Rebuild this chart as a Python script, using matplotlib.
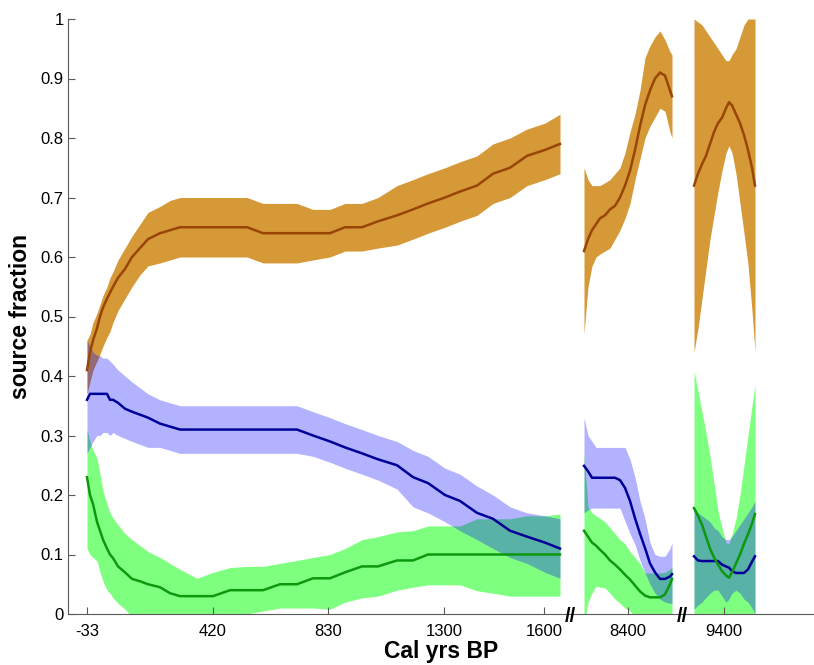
import numpy as np
import matplotlib
matplotlib.use('Agg')
import matplotlib.pyplot as plt

plt.rcParams['font.family'] = ['Liberation Sans', 'DejaVu Sans']

# положения по оси x (условные единицы, разрыв оси на двух местах)
x1 = [87, 90, 93, 97, 100, 103, 107, 110, 113, 118, 125, 132, 140, 148, 160, 170, 180, 197, 213, 230,
      247, 263, 280, 297, 313, 330, 345, 362, 378, 397, 413, 428, 445, 460, 477, 493, 510, 527, 545, 560]
x2 = [584, 588, 592, 596, 600, 605, 610, 615, 620, 625, 630, 635, 640, 645, 650, 655, 660, 665, 670, 672]
x3 = [694, 698, 702, 706, 710, 714, 718, 722, 726, 729, 732, 736, 740, 744, 748, 752, 755]

# коричневый источник
brown_mid1 = [0.41, 0.44, 0.46, 0.48, 0.50, 0.515, 0.53, 0.54, 0.55, 0.565, 0.58, 0.60, 0.615, 0.63, 0.64, 0.645, 0.65, 0.65, 0.65, 0.65,
              0.65, 0.64, 0.64, 0.64, 0.64, 0.64, 0.65, 0.65, 0.66, 0.67, 0.68, 0.69, 0.70, 0.71, 0.72, 0.74, 0.75, 0.77, 0.78, 0.79]
brown_hi1 = [0.46, 0.47, 0.49, 0.505, 0.52, 0.535, 0.55, 0.565, 0.575, 0.595, 0.615, 0.635, 0.655, 0.675, 0.685, 0.695, 0.70, 0.70, 0.70, 0.70,
             0.70, 0.69, 0.69, 0.69, 0.68, 0.68, 0.69, 0.69, 0.70, 0.72, 0.73, 0.74, 0.75, 0.76, 0.77, 0.79, 0.80, 0.815, 0.825, 0.84]
brown_lo1 = [0.37, 0.39, 0.41, 0.425, 0.437, 0.45, 0.465, 0.475, 0.49, 0.51, 0.53, 0.55, 0.57, 0.585, 0.59, 0.595, 0.60, 0.60, 0.60, 0.60,
             0.60, 0.59, 0.59, 0.59, 0.595, 0.60, 0.61, 0.61, 0.615, 0.62, 0.63, 0.64, 0.65, 0.66, 0.67, 0.69, 0.70, 0.72, 0.73, 0.74]
brown_mid2 = [0.61, 0.63, 0.645, 0.655, 0.665, 0.67, 0.68, 0.686, 0.70, 0.72, 0.745, 0.78, 0.82, 0.855, 0.88, 0.90, 0.91, 0.905, 0.88, 0.87]
brown_hi2 = [0.75, 0.73, 0.72, 0.72, 0.72, 0.725, 0.73, 0.74, 0.75, 0.775, 0.81, 0.84, 0.88, 0.935, 0.955, 0.97, 0.98, 0.965, 0.945, 0.94]
brown_lo2 = [0.47, 0.55, 0.585, 0.60, 0.605, 0.61, 0.615, 0.63, 0.645, 0.665, 0.69, 0.73, 0.765, 0.80, 0.82, 0.835, 0.85, 0.845, 0.81, 0.80]
brown_mid3 = [0.72, 0.74, 0.756, 0.77, 0.79, 0.81, 0.825, 0.834, 0.85, 0.86, 0.855, 0.84, 0.825, 0.805, 0.78, 0.75, 0.72]
brown_hi3 = [1.0, 0.995, 0.99, 0.98, 0.97, 0.96, 0.95, 0.94, 0.93, 0.93, 0.94, 0.95, 0.97, 0.99, 1.0, 1.0, 1.0]
brown_lo3 = [0.44, 0.48, 0.53, 0.58, 0.63, 0.67, 0.71, 0.745, 0.775, 0.787, 0.775, 0.74, 0.69, 0.64, 0.588, 0.51, 0.44]

# синий источник
blue_mid1 = [0.36, 0.37, 0.37, 0.37, 0.37, 0.37, 0.37, 0.36, 0.36, 0.355, 0.345, 0.34, 0.335, 0.33, 0.32, 0.315, 0.31, 0.31, 0.31, 0.31,
             0.31, 0.31, 0.31, 0.31, 0.30, 0.29, 0.28, 0.27, 0.26, 0.25, 0.23, 0.22, 0.20, 0.19, 0.17, 0.16, 0.14, 0.13, 0.12, 0.11]
blue_hi1 = [0.46, 0.45, 0.44, 0.435, 0.434, 0.43, 0.43, 0.425, 0.42, 0.41, 0.40, 0.39, 0.38, 0.37, 0.36, 0.355, 0.35, 0.35, 0.35, 0.35,
            0.35, 0.35, 0.35, 0.35, 0.34, 0.33, 0.32, 0.31, 0.30, 0.29, 0.275, 0.265, 0.245, 0.235, 0.215, 0.20, 0.18, 0.17, 0.165, 0.16]
blue_lo1 = [0.27, 0.28, 0.29, 0.30, 0.30, 0.305, 0.305, 0.30, 0.305, 0.30, 0.295, 0.29, 0.285, 0.28, 0.28, 0.275, 0.27, 0.27, 0.27, 0.27,
            0.27, 0.27, 0.27, 0.27, 0.265, 0.255, 0.245, 0.235, 0.225, 0.21, 0.18, 0.17, 0.155, 0.14, 0.125, 0.11, 0.095, 0.085, 0.07, 0.06]
blue_mid2 = [0.249, 0.24, 0.229, 0.229, 0.229, 0.229, 0.229, 0.229, 0.225, 0.212, 0.19, 0.161, 0.135, 0.111, 0.085, 0.07, 0.059, 0.059, 0.063, 0.067]
blue_hi2 = [0.33, 0.30, 0.29, 0.28, 0.28, 0.28, 0.28, 0.28, 0.28, 0.28, 0.26, 0.23, 0.19, 0.16, 0.12, 0.10, 0.097, 0.097, 0.11, 0.12]
blue_lo2 = [0.17, 0.175, 0.178, 0.178, 0.178, 0.178, 0.178, 0.178, 0.178, 0.156, 0.135, 0.117, 0.09, 0.069, 0.05, 0.035, 0.025, 0.02, 0.018, 0.018]
blue_mid3 = [0.097, 0.09, 0.089, 0.089, 0.089, 0.089, 0.089, 0.083, 0.08, 0.078, 0.072, 0.069, 0.069, 0.069, 0.075, 0.088, 0.097]
blue_hi3 = [0.18, 0.17, 0.165, 0.16, 0.155, 0.145, 0.14, 0.13, 0.125, 0.125, 0.13, 0.14, 0.15, 0.16, 0.17, 0.18, 0.19]
blue_lo3 = [0.008, 0.015, 0.02, 0.028, 0.035, 0.04, 0.04, 0.03, 0.02, 0.025, 0.035, 0.04, 0.035, 0.025, 0.02, 0.01, 0.0]

# зелёный источник
green_mid1 = [0.23, 0.20, 0.185, 0.155, 0.14, 0.125, 0.11, 0.10, 0.094, 0.08, 0.07, 0.059, 0.055, 0.05, 0.045, 0.035, 0.03, 0.03, 0.03, 0.04,
              0.04, 0.04, 0.05, 0.05, 0.06, 0.06, 0.07, 0.08, 0.08, 0.09, 0.09, 0.10, 0.10, 0.10, 0.10, 0.10, 0.10, 0.10, 0.10, 0.10]
green_hi1 = [0.31, 0.29, 0.275, 0.262, 0.235, 0.207, 0.185, 0.17, 0.161, 0.15, 0.135, 0.125, 0.115, 0.105, 0.095, 0.085, 0.075, 0.06, 0.07, 0.078,
             0.08, 0.08, 0.085, 0.09, 0.095, 0.10, 0.11, 0.125, 0.13, 0.138, 0.14, 0.148, 0.148, 0.148, 0.16, 0.16, 0.16, 0.165, 0.165, 0.168]
green_lo1 = [0.11, 0.10, 0.095, 0.089, 0.07, 0.055, 0.04, 0.035, 0.027, 0.018, 0.008, -0.005, -0.01, -0.015, -0.02, -0.02, -0.02, -0.01, -0.01, -0.005,
             0.0, 0.005, 0.01, 0.01, 0.01, 0.008, 0.02, 0.027, 0.03, 0.04, 0.045, 0.049, 0.049, 0.049, 0.039, 0.035, 0.03, 0.03, 0.03, 0.03]
green_mid2 = [0.14, 0.13, 0.12, 0.115, 0.108, 0.10, 0.09, 0.083, 0.075, 0.066, 0.058, 0.048, 0.038, 0.031, 0.028, 0.028, 0.028, 0.033, 0.05, 0.059]
green_hi2 = [0.27, 0.18, 0.17, 0.165, 0.161, 0.155, 0.145, 0.135, 0.125, 0.118, 0.105, 0.095, 0.085, 0.069, 0.069, 0.069, 0.069, 0.07, 0.075, 0.08]
green_lo2 = [-0.02, 0.02, 0.035, 0.047, 0.045, 0.044, 0.035, 0.025, 0.018, 0.01, 0.005, -0.005, -0.02, -0.02, -0.02, -0.02, -0.02, -0.02, -0.02, -0.02]
green_mid3 = [0.178, 0.165, 0.15, 0.13, 0.11, 0.095, 0.083, 0.072, 0.065, 0.061, 0.07, 0.085, 0.10, 0.118, 0.134, 0.152, 0.168]
green_hi3 = [0.408, 0.375, 0.34, 0.305, 0.265, 0.22, 0.173, 0.145, 0.12, 0.118, 0.134, 0.16, 0.20, 0.25, 0.30, 0.35, 0.386]
green_lo3 = [-0.02] * 17

tick_pos = [87, 213, 328, 444, 544, 628, 724]
tick_labels = ['-33', '420', '830', '1300', '1600', '8400', '9400']
break_pos = [570, 682]

brown_fill = (0.84, 0.6, 0.22)
brown_line = (0.6, 0.27, 0.02)
blue_line = (0.0, 0.0, 0.6)
green_line = (0.05, 0.6, 0.05)

fig = plt.figure(figsize=(8.14, 6.65), dpi=100)
ax = fig.add_axes([68 / 814, 51 / 665, 746 / 814, 595 / 665])

panels = [
    (x1, brown_mid1, brown_lo1, brown_hi1, blue_mid1, blue_lo1, blue_hi1, green_mid1, green_lo1, green_hi1),
    (x2, brown_mid2, brown_lo2, brown_hi2, blue_mid2, blue_lo2, blue_hi2, green_mid2, green_lo2, green_hi2),
    (x3, brown_mid3, brown_lo3, brown_hi3, blue_mid3, blue_lo3, blue_hi3, green_mid3, green_lo3, green_hi3),
]

for x, bm, bl, bh, um, ul, uh, gm, gl, gh in panels:
    ax.fill_between(x, bl, bh, color=brown_fill, linewidth=0)
    ax.fill_between(x, gl, gh, color=(0, 1, 0), alpha=0.5, linewidth=0)
    ax.fill_between(x, ul, uh, color=(0, 0, 1), alpha=0.3, linewidth=0)
    ax.plot(x, bm, color=brown_line, linewidth=1.8)
    ax.plot(x, um, color=blue_line, linewidth=1.8)
    ax.plot(x, gm, color=green_line, linewidth=1.8)

ax.set_xlim(68, 814)
ax.set_ylim(0, 1)

ax.spines['top'].set_visible(False)
ax.spines['right'].set_visible(False)
ax.spines['left'].set_color('0.35')
ax.spines['bottom'].set_color('0.35')

ax.set_xticks(tick_pos)
ax.set_xticklabels(tick_labels)
yt = np.round(np.arange(0, 1.01, 0.1), 1)
ax.set_yticks(yt)
ax.set_yticklabels(['%g' % v for v in yt])
ax.tick_params(axis='both', direction='in', length=5, color='0.35', labelsize=12)
ax.tick_params(axis='x', pad=7)
ax.tick_params(axis='y', pad=3)

# значки разрыва оси
for bp in break_pos:
    ax.text(bp, -0.004, '//', ha='center', va='center', fontsize=14.5, fontweight='bold',
            clip_on=False)

ax.set_xlabel('Cal yrs BP', fontsize=16.5, fontweight='bold', labelpad=1)
ax.set_ylabel('source fraction', fontsize=16.5, fontweight='bold', labelpad=6)

plt.savefig('out.png', dpi=100)
plt.close()
